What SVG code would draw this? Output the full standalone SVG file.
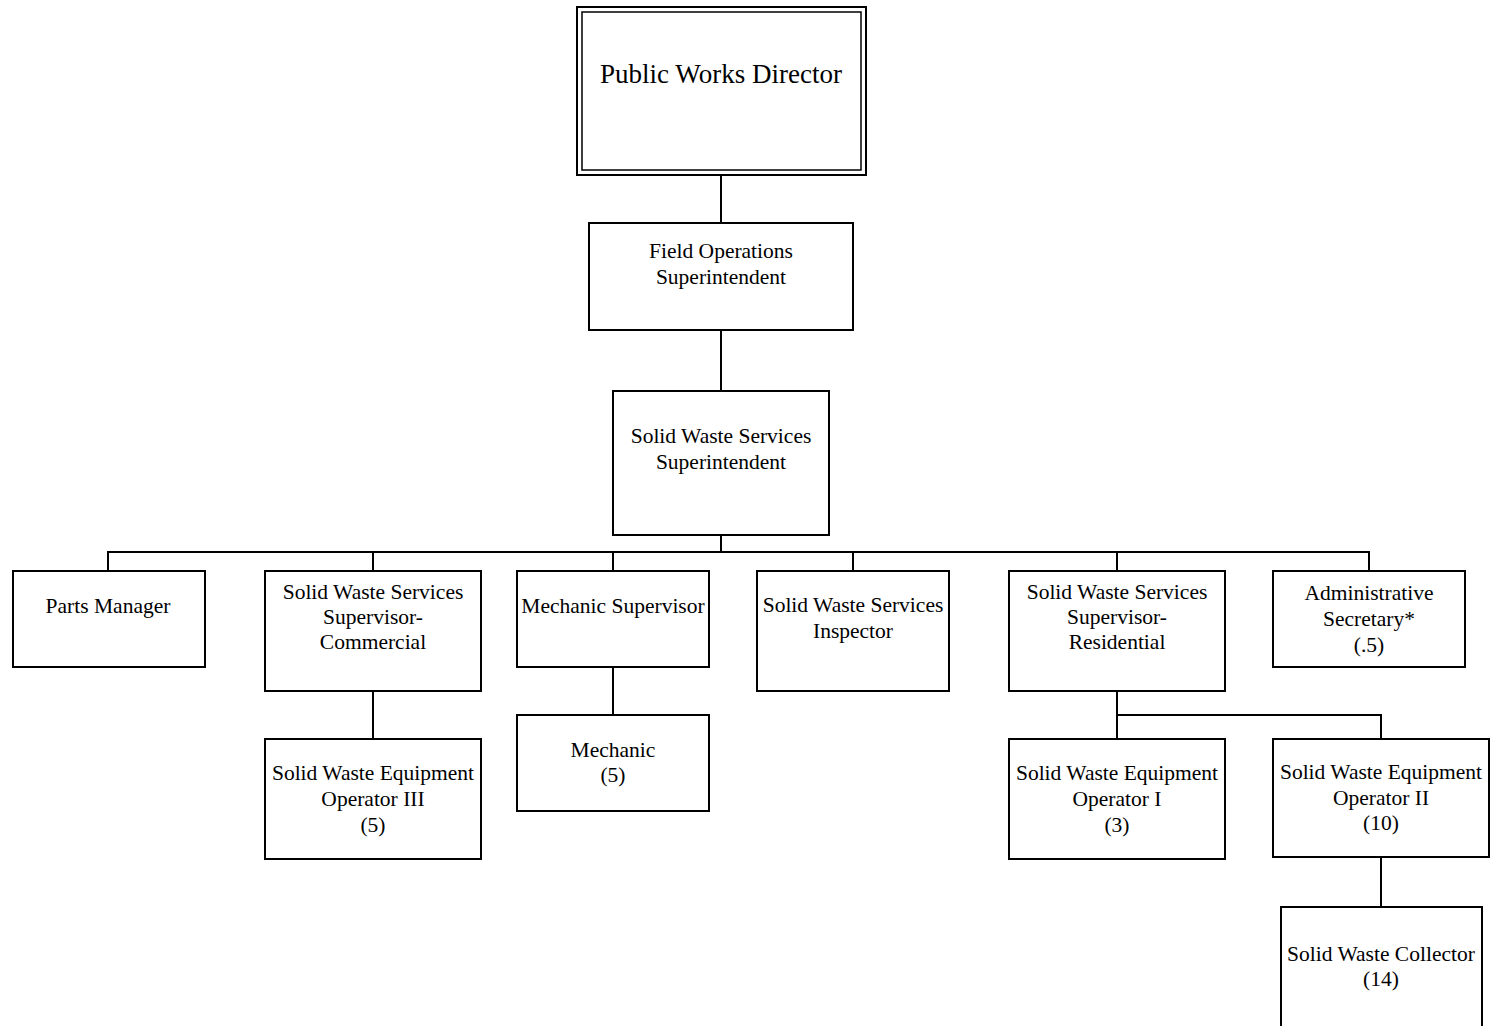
<svg xmlns="http://www.w3.org/2000/svg" width="1491" height="1026" viewBox="0 0 1491 1026">
  <style>
    .box { fill: #ffffff; stroke: #000000; stroke-width: 2; }
    .thin { fill: none; stroke: #000000; stroke-width: 1.5; }
    .wire { fill: none; stroke: #000000; stroke-width: 2; }
    text { font-family: "Liberation Serif", "Times New Roman", serif; font-size: 21.5px; fill: #000000; text-anchor: middle; }
    .big { font-size: 27px; }
  </style>
  <rect width="1491" height="1026" fill="#ffffff"/>

  <!-- reporting lines -->
  <g id="connectors">
    <path class="wire" d="M721 175 V223"/>
    <path class="wire" d="M721 330 V391"/>
    <path class="wire" d="M721 535 V552"/>
    <path class="wire" d="M108 571 V552 H1369 V571"/>
    <path class="wire" d="M373 552 V571"/>
    <path class="wire" d="M613 552 V571"/>
    <path class="wire" d="M853 552 V571"/>
    <path class="wire" d="M1117 552 V571"/>
    <path class="wire" d="M373 691 V739"/>
    <path class="wire" d="M613 667 V715"/>
    <path class="wire" d="M1117 691 V739"/>
    <path class="wire" d="M1117 715 H1381 V739"/>
    <path class="wire" d="M1381 857 V907"/>
  </g>

  <g id="public-works-director">
    <rect class="box" x="577" y="7" width="289" height="168"/>
    <rect class="thin" x="582" y="12" width="279" height="158"/>
    <text class="big" x="721" y="83">Public Works Director</text>
  </g>

  <g id="field-operations-superintendent">
    <rect class="box" x="589" y="223" width="264" height="107"/>
    <text x="721" y="258">Field Operations</text>
    <text x="721" y="284">Superintendent</text>
  </g>

  <g id="solid-waste-services-superintendent">
    <rect class="box" x="613" y="391" width="216" height="144"/>
    <text x="721" y="443">Solid Waste Services</text>
    <text x="721" y="469">Superintendent</text>
  </g>

  <g id="parts-manager">
    <rect class="box" x="13" y="571" width="192" height="96"/>
    <text x="108" y="613">Parts Manager</text>
  </g>

  <g id="supervisor-commercial">
    <rect class="box" x="265" y="571" width="216" height="120"/>
    <text x="373" y="599">Solid Waste Services</text>
    <text x="373" y="624">Supervisor-</text>
    <text x="373" y="649">Commercial</text>
  </g>

  <g id="mechanic-supervisor">
    <rect class="box" x="517" y="571" width="192" height="96"/>
    <text x="613" y="613">Mechanic Supervisor</text>
  </g>

  <g id="solid-waste-inspector">
    <rect class="box" x="757" y="571" width="192" height="120"/>
    <text x="853" y="612">Solid Waste Services</text>
    <text x="853" y="638">Inspector</text>
  </g>

  <g id="supervisor-residential">
    <rect class="box" x="1009" y="571" width="216" height="120"/>
    <text x="1117" y="599">Solid Waste Services</text>
    <text x="1117" y="624">Supervisor-</text>
    <text x="1117" y="649">Residential</text>
  </g>

  <g id="administrative-secretary">
    <rect class="box" x="1273" y="571" width="192" height="96"/>
    <text x="1369" y="600">Administrative</text>
    <text x="1369" y="626">Secretary*</text>
    <text x="1369" y="652">(.5)</text>
  </g>

  <g id="equipment-operator-iii">
    <rect class="box" x="265" y="739" width="216" height="120"/>
    <text x="373" y="780">Solid Waste Equipment</text>
    <text x="373" y="806">Operator III</text>
    <text x="373" y="832">(5)</text>
  </g>

  <g id="mechanic">
    <rect class="box" x="517" y="715" width="192" height="96"/>
    <text x="613" y="757">Mechanic</text>
    <text x="613" y="782">(5)</text>
  </g>

  <g id="equipment-operator-i">
    <rect class="box" x="1009" y="739" width="216" height="120"/>
    <text x="1117" y="780">Solid Waste Equipment</text>
    <text x="1117" y="806">Operator I</text>
    <text x="1117" y="832">(3)</text>
  </g>

  <g id="equipment-operator-ii">
    <rect class="box" x="1273" y="739" width="216" height="118"/>
    <text x="1381" y="779">Solid Waste Equipment</text>
    <text x="1381" y="805">Operator II</text>
    <text x="1381" y="830">(10)</text>
  </g>

  <g id="solid-waste-collector">
    <rect class="box" x="1281" y="907" width="201" height="140"/>
    <text x="1381" y="961">Solid Waste Collector</text>
    <text x="1381" y="986">(14)</text>
  </g>
</svg>
